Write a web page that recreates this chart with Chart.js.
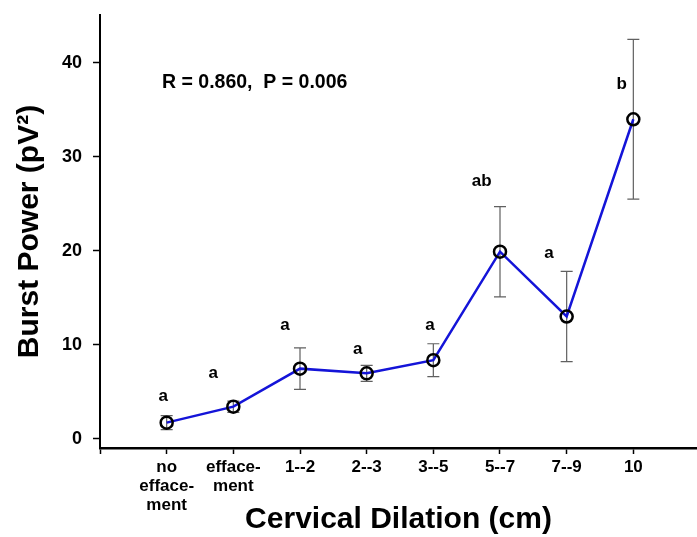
<!DOCTYPE html>
<html>
<head>
<meta charset="utf-8">
<script src="https://cdn.jsdelivr.net/npm/chart.js@4/dist/chart.umd.min.js"></script>
<style>
  html, body { margin: 0; padding: 0; background: #fff; }
  #wrap { width: 697px; height: 537px; }
</style>
</head>
<body>
<div id="wrap"><canvas id="c" width="697" height="537"></canvas></div>
<script>
// ---- data ----
const categories = [['no', 'efface-', 'ment'], ['efface-', 'ment'], '1--2', '2--3', '3--5', '5--7', '7--9', '10'];
const burstPower = [1.7, 3.4, 7.45, 6.95, 8.35, 19.9, 13.0, 34.0];
const burstError = [0.75, 0.6, 2.2, 0.85, 1.75, 4.8, 4.8, 8.5];
const groupLetters = ['a', 'a', 'a', 'a', 'a', 'ab', 'a', 'b'];
const letterX = [0.95, 1.70, 2.775, 3.865, 4.95, 5.725, 6.735, 7.825];
const letterY = [4.45, 6.95, 12.1, 9.5, 12.1, 27.35, 19.7, 37.7];
const yTicks = [0, 10, 20, 30, 40];
const statText = 'R = 0.860,  P = 0.006';
const statPos = { x: 0.93, y: 37.85 };

const FONT = "'Liberation Sans', Arial, sans-serif";

const points = burstPower.map((v, i) => ({ x: i + 1, y: v }));

const annotate = {
  id: 'annotate',
  beforeDatasetsDraw(chart) {
    const { ctx, scales: { x, y } } = chart;
    ctx.save();
    ctx.strokeStyle = '#606060';
    ctx.lineWidth = 1.2;
    burstPower.forEach((v, i) => {
      const px = x.getPixelForValue(i + 1);
      const top = y.getPixelForValue(v + burstError[i]);
      const bot = y.getPixelForValue(v - burstError[i]);
      ctx.beginPath();
      ctx.moveTo(px, top); ctx.lineTo(px, bot);
      ctx.moveTo(px - 6, top); ctx.lineTo(px + 6, top);
      ctx.moveTo(px - 6, bot); ctx.lineTo(px + 6, bot);
      ctx.stroke();
    });
    ctx.restore();
  },
  afterDatasetsDraw(chart) {
    const { ctx, scales: { x, y } } = chart;
    ctx.save();
    ctx.fillStyle = '#000';
    ctx.font = 'bold 17px ' + FONT;
    ctx.textAlign = 'center';
    ctx.textBaseline = 'middle';
    groupLetters.forEach((t, i) => {
      ctx.fillText(t, x.getPixelForValue(letterX[i]), y.getPixelForValue(letterY[i]));
    });
    ctx.font = 'bold 19.5px ' + FONT;
    ctx.textAlign = 'left';
    ctx.fillText(statText, x.getPixelForValue(statPos.x), y.getPixelForValue(statPos.y));
    ctx.restore();
  }
};

new Chart(document.getElementById('c'), {
  type: 'line',
  data: {
    datasets: [{
      data: points,
      borderColor: '#1414d8',
      borderWidth: 2.5,
      pointRadius: 6,
      pointHoverRadius: 6,
      pointBorderWidth: 2.5,
      pointBorderColor: '#000',
      pointBackgroundColor: 'rgba(0,0,0,0)',
      tension: 0,
      fill: false,
      clip: false
    }]
  },
  options: {
    responsive: false,
    animation: false,
    events: [],
    layout: { autoPadding: false, padding: { top: 15, right: 0, left: 0, bottom: 0 } },
    plugins: { legend: { display: false }, tooltip: { enabled: false } },
    scales: {
      x: {
        type: 'linear',
        min: 0,
        max: 8.955,
        afterFit(s) { s.height = 89; s.paddingLeft = 0; s.paddingRight = 0; },
        border: { display: true, color: '#000', width: 2.5 },
        grid: { drawOnChartArea: false, drawTicks: true, tickLength: 6, tickColor: '#000', tickWidth: 1.5 },
        ticks: {
          stepSize: 1,
          includeBounds: false,
          autoSkip: false,
          maxRotation: 0,
          color: '#000',
          padding: 4,
          font: { family: FONT, size: 17, weight: 'bold', lineHeight: 1.12 },
          callback(v) {
            const i = Math.round(v) - 1;
            return (i >= 0 && i < categories.length && Math.abs(v - Math.round(v)) < 1e-6) ? categories[i] : '';
          }
        },
        title: {
          display: true,
          text: 'Cervical Dilation (cm)',
          color: '#000',
          font: { family: FONT, size: 30, weight: 'bold', lineHeight: 1 },
          padding: { top: 0, bottom: 2 }
        }
      },
      y: {
        min: -1,
        max: 45.1,
        afterFit(s) { s.width = 100; s.paddingTop = 0; s.paddingBottom = 0; },
        afterBuildTicks(s) { s.ticks = yTicks.map(v => ({ value: v })); },
        border: { display: true, color: '#000', width: 2 },
        grid: { drawOnChartArea: false, drawTicks: true, tickLength: 7, tickColor: '#000', tickWidth: 1.5 },
        ticks: {
          color: '#000',
          padding: 11,
          font: { family: FONT, size: 18, weight: 'bold' }
        },
        title: {
          display: true,
          text: 'Burst Power (pV²)',
          color: '#000',
          font: { family: FONT, size: 30, weight: 'bold', lineHeight: 1 },
          padding: { top: 15, bottom: 0 }
        }
      }
    }
  },
  plugins: [annotate]
});
</script>
</body>
</html>
